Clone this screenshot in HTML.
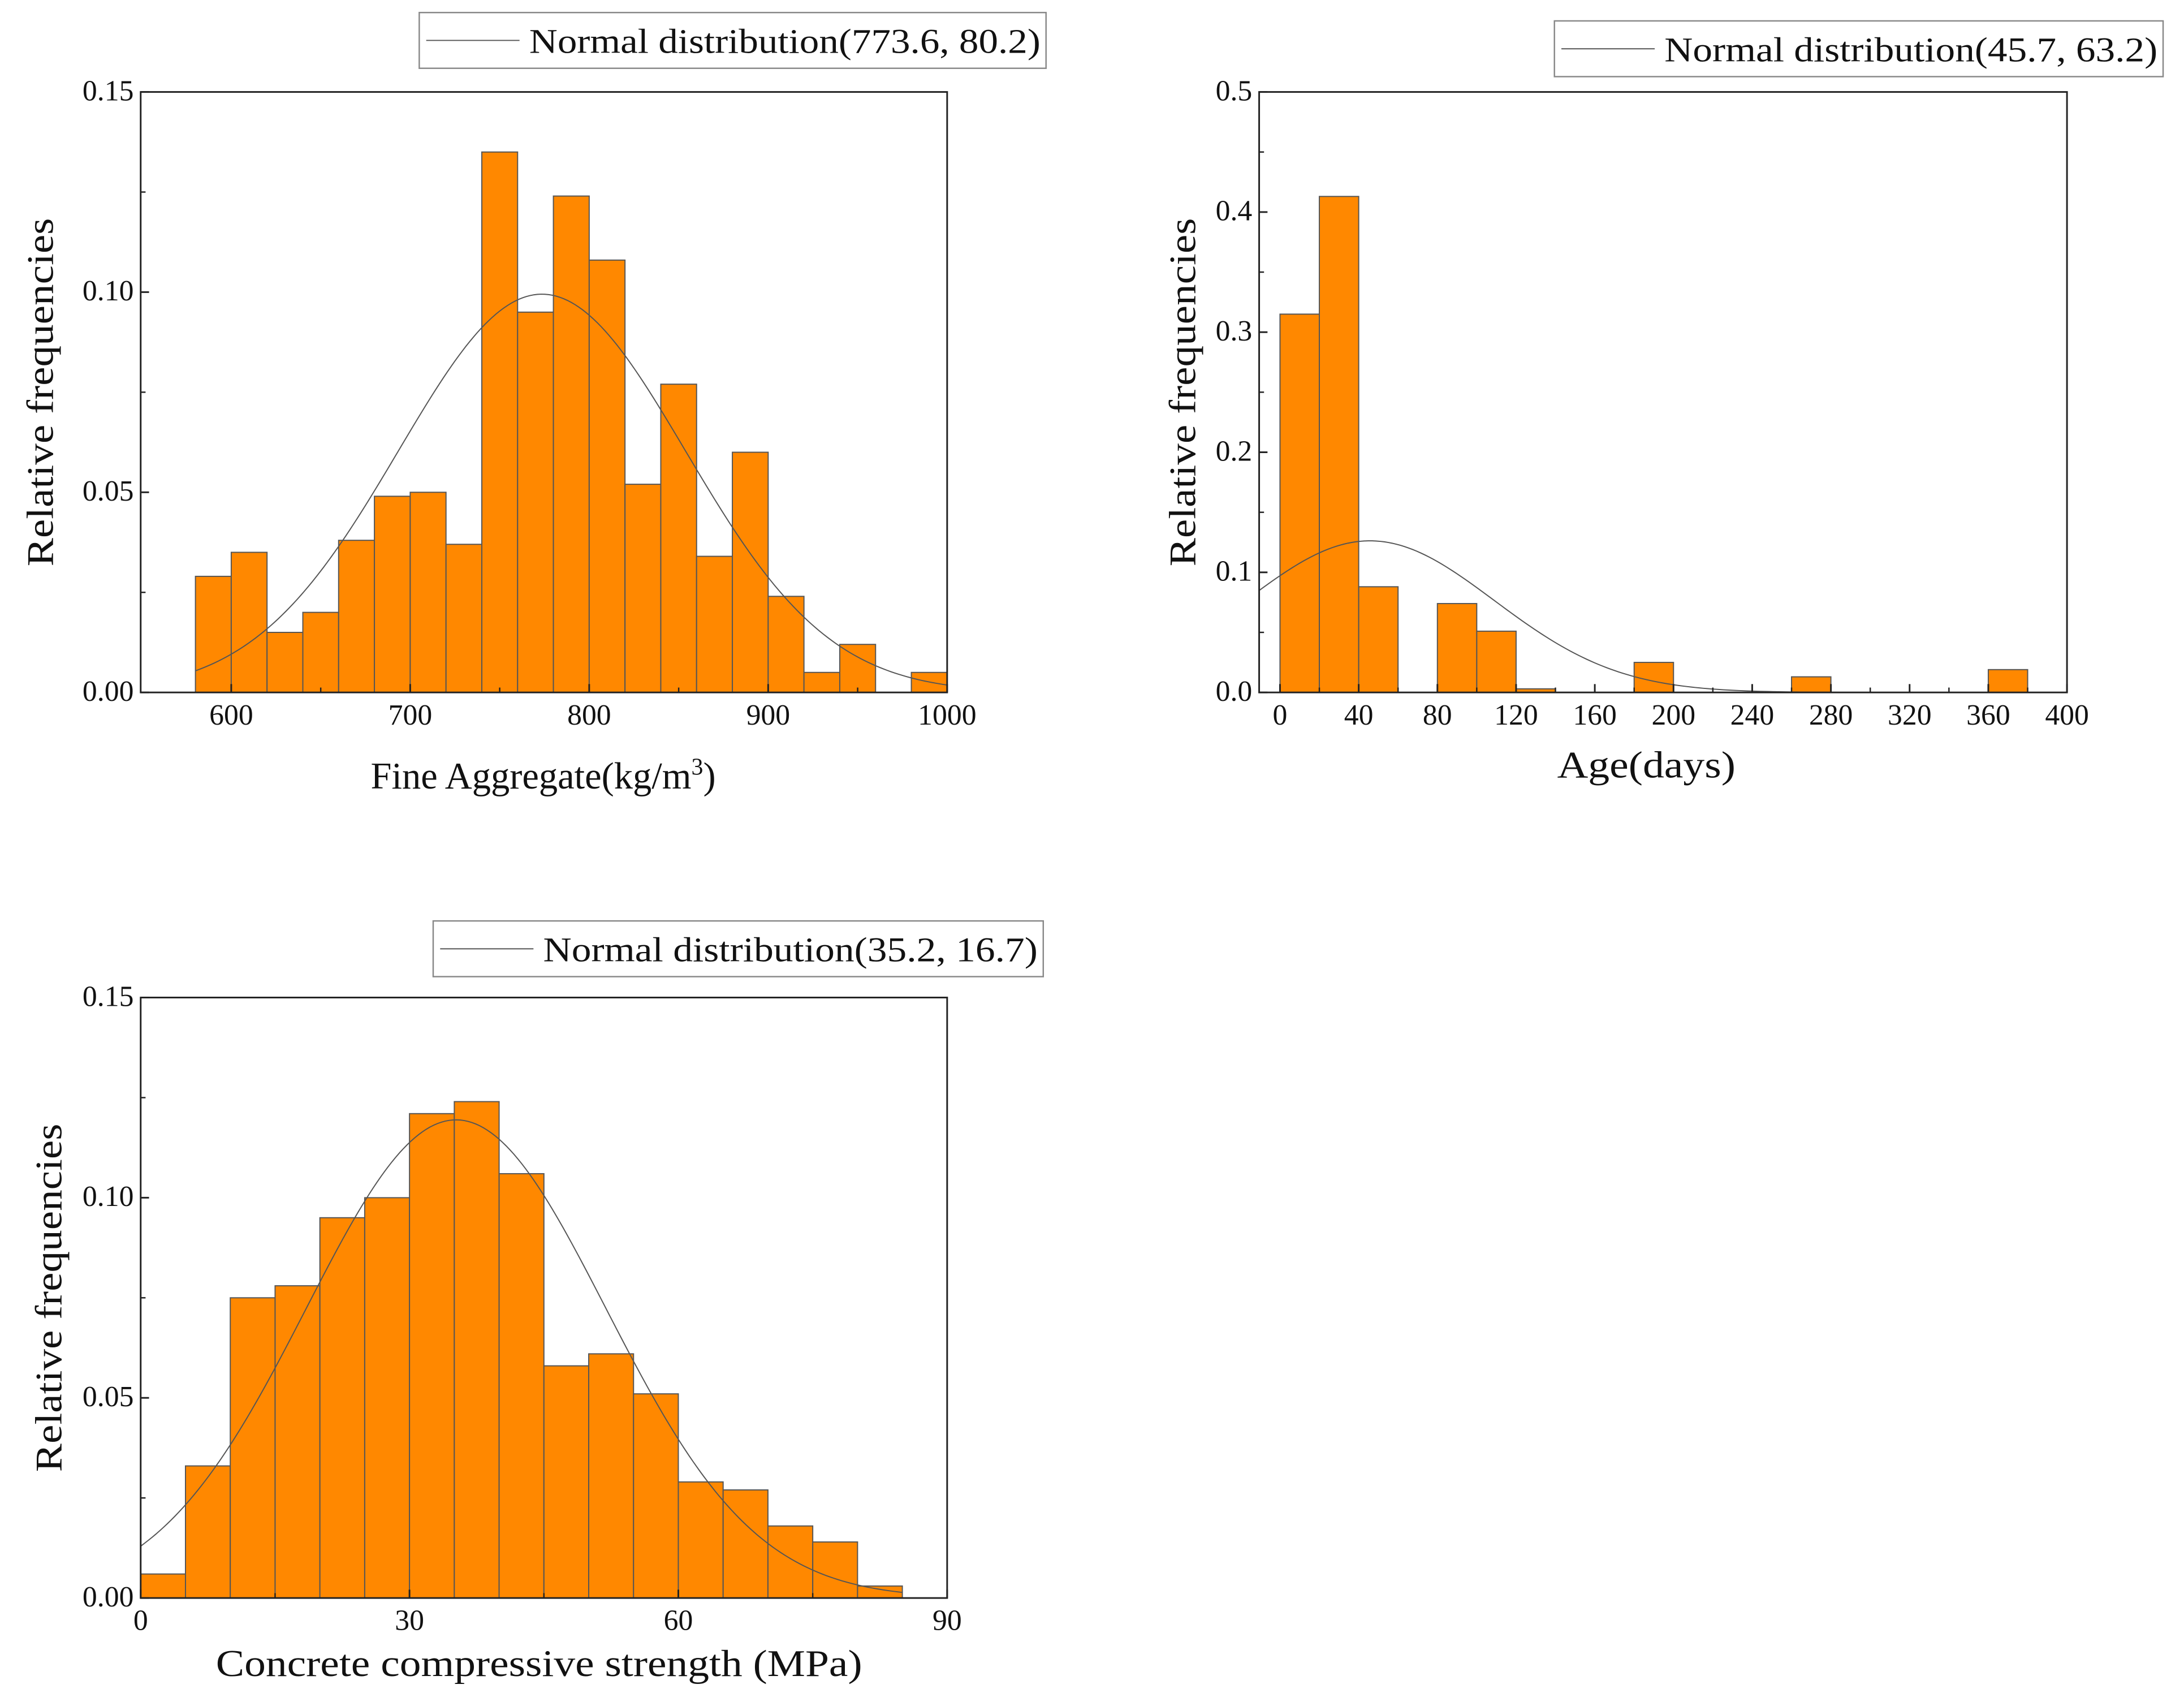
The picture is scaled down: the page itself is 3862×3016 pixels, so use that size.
<!DOCTYPE html>
<html><head><meta charset="utf-8"><style>
html,body{margin:0;padding:0;background:#fff}
svg{display:block}
text{font-family:"Liberation Serif",serif;fill:#111}
</style></head><body>
<svg id="fig" width="3862" height="3016" viewBox="0 0 1568 1224.5" xmlns="http://www.w3.org/2000/svg"></svg>
<script>
// Chart 1: Fine aggregate
const fineBinStart = 580, fineBinWidth = 20;
const fineValues = [0.029,0.035,0.015,0.020,0.038,0.049,0.050,0.037,0.135,0.095,0.124,0.108,0.052,0.077,0.034,0.060,0.024,0.005,0.012,0,0.005];
const fineXTicks = [600,700,800,900,1000];
const fineYTicks = [0.00,0.05,0.10,0.15];
const fineYLabels = ["0.00","0.05","0.10","0.15"];
const fineNormal = [773.6, 80.2];
// Chart 2: Age
const ageBinStart = 0, ageBinWidth = 20;
const ageValues = [0.315,0.413,0.088,0,0.074,0.051,0.003,0,0,0.025,0,0,0,0.013,0,0,0,0,0.019];
const ageXTicks = [0,40,80,120,160,200,240,280,320,360,400];
const ageYTicks = [0,0.1,0.2,0.3,0.4,0.5];
const ageYLabels = ["0.0","0.1","0.2","0.3","0.4","0.5"];
const ageNormal = [45.7, 63.2];
// Chart 3: Strength
const strBinStart = 0, strBinWidth = 5;
const strValues = [0.006,0.033,0.075,0.078,0.095,0.100,0.121,0.124,0.106,0.058,0.061,0.051,0.029,0.027,0.018,0.014,0.003];
const strXTicks = [0,30,60,90];
const strYTicks = [0.00,0.05,0.10,0.15];
const strYLabels = ["0.00","0.05","0.10","0.15"];
const strNormal = [35.2, 16.7];

const NS="http://www.w3.org/2000/svg";
const svg=document.getElementById('fig');
function mk(tag,attrs,parent){const e=document.createElementNS(NS,tag);for(const k in attrs)e.setAttribute(k,attrs[k]);(parent||svg).appendChild(e);return e;}

function chart(c){
  const g=mk('g',{});
  
  
  const sx=v=>c.px0+(v-c.xmin)/(c.xmax-c.xmin)*(c.px1-c.px0);
  const sy=v=>c.py0-(v-c.ymin)/(c.ymax-c.ymin)*(c.py0-c.py1);
  c.values.forEach((v,i)=>{
    const x0=sx(c.binStart+i*c.binWidth),x1=sx(c.binStart+(i+1)*c.binWidth);
    const r=mk('rect',{x:x0,y:sy(v),width:x1-x0,height:Math.max(sy(0)-sy(v),0.01),fill:v>0?'#ff8800':'none',stroke:'#555','stroke-width':0.8},g);
    
    
  });
  const [mu,sd]=c.normal;let d='';
  const n=200;
  for(let i=0;i<=n;i++){const x=c.cx0+(c.cx1-c.cx0)*i/n;const y=c.binWidth/(sd*Math.sqrt(2*Math.PI))*Math.exp(-((x-mu)**2)/(2*sd*sd));d+=(i?'L':'M')+sx(x).toFixed(2)+','+sy(y).toFixed(2);}
  const p=mk('path',{d:d,fill:'none',stroke:'#555','stroke-width':0.8},g);
  
  
  const f=mk('rect',{x:c.px0,y:c.py1,width:c.px1-c.px0,height:c.py0-c.py1,fill:'none',stroke:'#222','stroke-width':1.2},g);
  
  
  c.xTicks.forEach((t,i)=>{
    mk('line',{x1:sx(t),x2:sx(t),y1:c.py0,y2:c.py0-6,stroke:'#222','stroke-width':1.2},g);
    if(i<c.xTicks.length-1){const m=(t+c.xTicks[i+1])/2;mk('line',{x1:sx(m),x2:sx(m),y1:c.py0,y2:c.py0-3.5,stroke:'#222','stroke-width':1},g);}
    const tx=mk('text',{x:sx(t),y:c.py0+23,'text-anchor':'middle','font-size':21},g);tx.textContent=t;
    
    
  });
  c.yTicks.forEach((t,i)=>{
    mk('line',{x1:c.px0,x2:c.px0+6,y1:sy(t),y2:sy(t),stroke:'#222','stroke-width':1.2},g);
    if(i<c.yTicks.length-1){const m=(t+c.yTicks[i+1])/2;mk('line',{x1:c.px0,x2:c.px0+3.5,y1:sy(m),y2:sy(m),stroke:'#222','stroke-width':1},g);}
    const tx=mk('text',{x:c.px0-5,y:sy(t)+6,'text-anchor':'end','font-size':21},g);tx.textContent=c.yLabels[i];
    
    
  });
  const yt=mk('text',{x:0,y:0,'text-anchor':'middle','font-size':27,textLength:250,lengthAdjust:'spacingAndGlyphs',transform:`translate(${c.ytx},${(c.py0+c.py1)/2}) rotate(-90)`},g);
  yt.textContent='Relative frequencies';
  
  
  const xt=mk('text',{x:c.xtx,y:c.xty,'text-anchor':'middle','font-size':27},g);
  if(c.xTitleLen){xt.setAttribute('textLength',c.xTitleLen);xt.setAttribute('lengthAdjust','spacingAndGlyphs');}
  xt.innerHTML=c.xTitle;
  
  
  const lg=mk('g',{},g);
  
  
  mk('rect',{x:c.lx0,y:c.ly0,width:c.lx1-c.lx0,height:40,fill:'#fff',stroke:'#888','stroke-width':1},lg);
  mk('line',{x1:c.lx0+5,x2:c.lx0+72,y1:c.ly0+20,y2:c.ly0+20,stroke:'#555','stroke-width':0.8},lg);
  const lt=mk('text',{x:c.lx0+79,y:c.ly0+29,'font-size':25,textLength:c.lx1-c.lx0-83,lengthAdjust:'spacingAndGlyphs'},lg);
  lt.textContent=`Normal distribution(${mu}, ${sd})`;
  
  
}

chart({name:'fine-aggregate-chart',values:fineValues,binStart:fineBinStart,binWidth:fineBinWidth,normal:fineNormal,
  xmin:549.4,xmax:1000,ymin:0,ymax:0.15,px0:101,px1:680,py0:497,py1:66,cx0:580,cx1:1000,
  xTicks:fineXTicks,yTicks:fineYTicks,yLabels:fineYLabels,ytx:38,xtx:390,xty:566,
  xTitle:'Fine Aggregate(kg/m<tspan dy="-10" font-size="17">3</tspan><tspan dy="10">)</tspan>',lx0:301,lx1:751,ly0:9});
chart({name:'age-chart',values:ageValues,binStart:ageBinStart,binWidth:ageBinWidth,normal:ageNormal,
  xmin:-10.6,xmax:400,ymin:0,ymax:0.5,px0:904,px1:1484,py0:497,py1:66,cx0:-10.6,cx1:400,
  xTicks:ageXTicks,yTicks:ageYTicks,yLabels:ageYLabels,ytx:858,xtx:1182,xty:558,xTitleLen:128,
  xTitle:'Age(days)',lx0:1116,lx1:1553,ly0:15});
chart({name:'strength-chart',values:strValues,binStart:strBinStart,binWidth:strBinWidth,normal:strNormal,
  xmin:0,xmax:90,ymin:0,ymax:0.15,px0:101,px1:680,py0:1147,py1:716,cx0:0,cx1:85,
  xTicks:strXTicks,yTicks:strYTicks,yLabels:strYLabels,ytx:44,xtx:387,xty:1203,xTitleLen:464,
  xTitle:'Concrete compressive strength (MPa)',lx0:311,lx1:749,ly0:661});
</script>
</body></html>
